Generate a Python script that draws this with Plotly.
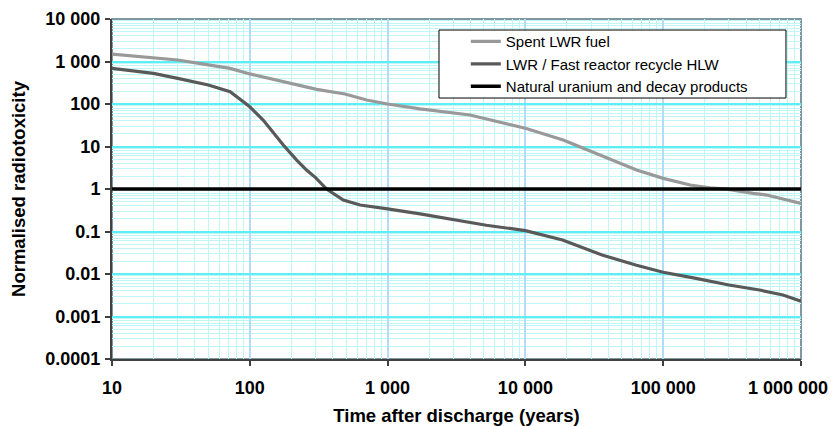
import plotly.graph_objects as go

# Spent LWR fuel
spent_t = [10, 20, 30, 50, 72, 100, 195, 306, 490, 705, 1000, 1720, 3960, 7730, 10000,
           18800, 36700, 64100, 100000, 157000, 219000, 290000, 450000, 563000, 1000000]
spent_v = [1500, 1250, 1085, 830, 690, 510, 306, 221, 172, 124, 100, 77, 55, 32, 26.8,
           14.2, 5.75, 2.8, 1.78, 1.24, 1.06, 0.99, 0.79, 0.72, 0.46]

# LWR / Fast reactor recycle HLW
hlw_t = [10, 20, 30, 50, 72, 100, 125, 150, 175, 219, 258, 300, 361, 477, 631, 1000, 1720,
         5200, 10000, 18600, 36000, 64000, 100000, 173000, 300000, 500000, 740000, 1000000]
hlw_v = [690, 525, 400, 280, 195, 86, 42, 20, 10.8, 4.8, 2.8, 1.85, 1.0, 0.55, 0.42, 0.34, 0.26,
         0.14, 0.105, 0.063, 0.028, 0.016, 0.011, 0.0079, 0.0055, 0.0042, 0.0032, 0.0023]

# Natural uranium and decay products
nat_t = [10, 1000000]
nat_v = [1, 1]

x_ticks = [10, 100, 1000, 10000, 100000, 1000000]
x_labels = ["10", "100", "1 000", "10 000", "100 000", "1 000 000"]
y_ticks = [0.0001, 0.001, 0.01, 0.1, 1, 10, 100, 1000, 10000]
y_labels = ["0.0001", "0.001", "0.01", "0.1", "1", "10", "100", "1 000", "10 000"]

FONT = "Arial, Liberation Sans, sans-serif"
TICKFONT = dict(family=FONT, size=18, color="black", weight="bold")

fig = go.Figure()
fig.add_trace(go.Scatter(x=spent_t, y=spent_v, mode="lines", name="Spent LWR fuel",
                         line=dict(color="#999999", width=3.2)))
fig.add_trace(go.Scatter(x=hlw_t, y=hlw_v, mode="lines", name="LWR / Fast reactor recycle HLW",
                         line=dict(color="#595959", width=3.2)))
fig.add_trace(go.Scatter(x=nat_t, y=nat_v, mode="lines", name="Natural uranium and decay products",
                         line=dict(color="#000000", width=3.5)))

# plot frame (top/right in grey)
fig.add_shape(type="rect", xref="paper", yref="paper", x0=0, x1=1, y0=0, y1=1,
              line=dict(color="#7f98a0", width=2), layer="between")
# legend box
fig.add_shape(type="rect", xref="paper", yref="paper", x0=0.4746, x1=0.9782, y0=0.7676, y1=0.9676,
              line=dict(color="#000000", width=1), fillcolor="white", layer="above")

# last x tick label is kept inside the figure (as in the original), so draw it right-aligned
tick_text_shown = x_labels[:-1] + [""]
fig.add_annotation(x=1, xref="paper", y=0, yref="paper", text=x_labels[-1],
                   showarrow=False, xanchor="right", yanchor="top", xshift=29, yshift=-17,
                   font=TICKFONT)

fig.update_layout(
    width=834, height=426,
    margin=dict(l=112, r=33, t=19, b=67),
    paper_bgcolor="white", plot_bgcolor="white",
    font=dict(family=FONT, color="black"),
    legend=dict(x=0.5135, y=0.982, xanchor="left", yanchor="top",
                borderwidth=0, bgcolor="rgba(0,0,0,0)",
                font=dict(family=FONT, size=15, color="black"),
                tracegroupgap=0),
    xaxis=dict(type="log", range=[1, 6], tickmode="array", tickvals=x_ticks, ticktext=tick_text_shown,
               ticks="outside", ticklen=5, tickcolor="#404040", tickwidth=1.5,
               showline=True, linecolor="#404040", linewidth=2,
               showgrid=True, gridcolor="#b4dcf6", gridwidth=1.5,
               minor=dict(dtick="D1", showgrid=True, gridcolor="#c0f6f6", gridwidth=1, ticks=""),
               tickfont=TICKFONT,
               ticklabelstandoff=6, automargin=False,
               title=dict(text="<b>Time after discharge (years)</b>",
                          font=dict(family=FONT, size=18.5, color="black"), standoff=14)),
    yaxis=dict(type="log", range=[-4, 4], tickmode="array", tickvals=y_ticks, ticktext=y_labels,
               ticks="outside", ticklen=5, tickcolor="#404040", tickwidth=1.5,
               showline=True, linecolor="#404040", linewidth=2,
               showgrid=True, gridcolor="#5eeef6", gridwidth=1.5,
               minor=dict(dtick="D1", showgrid=True, gridcolor="#c0f6f6", gridwidth=1, ticks=""),
               tickfont=TICKFONT,
               ticklabelstandoff=1, automargin=False,
               title=dict(text="<b>Normalised radiotoxicity</b>",
                          font=dict(family=FONT, size=18.5, color="black"), standoff=15)),
)

fig.write_html("out.html", config={"displayModeBar": False},
               post_script="document.body.style.margin='0';document.body.style.overflow='hidden';")
